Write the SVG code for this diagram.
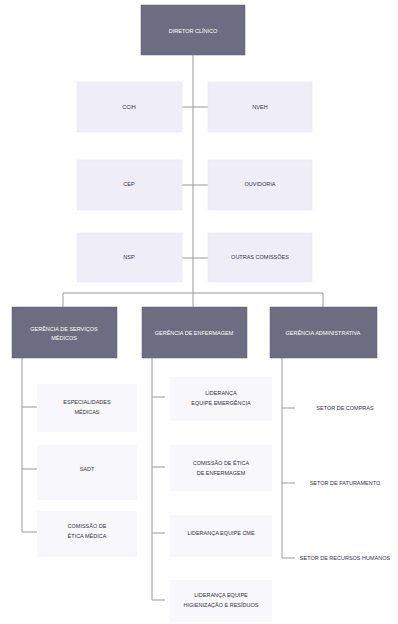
<svg xmlns="http://www.w3.org/2000/svg" width="398" height="624" viewBox="0 0 398 624">
<style>
.dark{fill:#6d6c80;stroke:#5d5c70;stroke-width:0.5}
.light{fill:#efeef7;stroke:#e6e4f0;stroke-width:0.5}
.faint{fill:#f8f7fb;stroke:none}
.wt{font-family:"Liberation Sans",Arial,sans-serif;font-size:5.5px;fill:#ffffff;text-anchor:middle}
.bt{font-family:"Liberation Sans",Arial,sans-serif;font-size:5.5px;fill:#333344;text-anchor:middle}
.ln{stroke:#9a9a9a;stroke-width:1;fill:none}
</style>
<rect width="398" height="624" fill="#ffffff"/>
<g id="connectors">
<line class="ln" x1="193" y1="55" x2="193" y2="293"/>
<line class="ln" x1="182" y1="107" x2="208" y2="107"/>
<line class="ln" x1="182" y1="185" x2="208" y2="185"/>
<line class="ln" x1="182" y1="258" x2="208" y2="258"/>
<line class="ln" x1="63" y1="293" x2="323" y2="293"/>
<line class="ln" x1="63" y1="293" x2="63" y2="307"/>
<line class="ln" x1="193" y1="293" x2="193" y2="307"/>
<line class="ln" x1="323" y1="293" x2="323" y2="307"/>
<line class="ln" x1="22" y1="358" x2="22" y2="532"/>
<line class="ln" x1="22" y1="407" x2="37" y2="407"/>
<line class="ln" x1="22" y1="469" x2="37" y2="469"/>
<line class="ln" x1="22" y1="532" x2="37" y2="532"/>
<line class="ln" x1="152" y1="358" x2="152" y2="600"/>
<line class="ln" x1="152" y1="397" x2="165" y2="397"/>
<line class="ln" x1="152" y1="467" x2="165" y2="467"/>
<line class="ln" x1="152" y1="533" x2="165" y2="533"/>
<line class="ln" x1="152" y1="600" x2="165" y2="600"/>
<line class="ln" x1="282" y1="358" x2="282" y2="558"/>
<line class="ln" x1="282" y1="408" x2="295" y2="408"/>
<line class="ln" x1="282" y1="483" x2="295" y2="483"/>
<line class="ln" x1="282" y1="558" x2="295" y2="558"/>
</g>
<g id="n-top"><rect class="dark" x="141" y="5" width="104" height="50"/><text class="wt" x="193" y="33">DIRETOR CLÍNICO</text></g>
<g id="n-ccih"><rect class="light" x="77" y="82" width="105" height="50"/><text class="bt" x="129" y="109">CCIH</text></g>
<g id="n-nveh"><rect class="light" x="208" y="82" width="104" height="50"/><text class="bt" x="260" y="109">NVEH</text></g>
<g id="n-cep"><rect class="light" x="77" y="160" width="105" height="50"/><text class="bt" x="129" y="186">CEP</text></g>
<g id="n-ouv"><rect class="light" x="208" y="160" width="104" height="50"/><text class="bt" x="260" y="186">OUVIDORIA</text></g>
<g id="n-nsp"><rect class="light" x="77" y="233" width="105" height="49"/><text class="bt" x="129" y="259">NSP</text></g>
<g id="n-outras"><rect class="light" x="208" y="233" width="104" height="49"/><text class="bt" x="260" y="259">OUTRAS COMISSÕES</text></g>
<g id="n-med"><rect class="dark" x="12" y="307" width="105" height="51"/><text class="wt" x="64" y="331">GERÊNCIA DE SERVIÇOS</text><text class="wt" x="64" y="340">MÉDICOS</text></g>
<g id="n-enf"><rect class="dark" x="142" y="307" width="105" height="51"/><text class="wt" x="194" y="335">GERÊNCIA DE ENFERMAGEM</text></g>
<g id="n-adm"><rect class="dark" x="270" y="307" width="107" height="51"/><text class="wt" x="323" y="335">GERÊNCIA ADMINISTRATIVA</text></g>
<g id="n-esp"><rect class="faint" x="37" y="384" width="100" height="48"/><text class="bt" x="87" y="404">ESPECIALIDADES</text><text class="bt" x="87" y="414">MÉDICAS</text></g>
<g id="n-sadt"><rect class="faint" x="37" y="445" width="100" height="55"/><text class="bt" x="87" y="471">SADT</text></g>
<g id="n-cem"><rect class="faint" x="37" y="511" width="100" height="46"/><text class="bt" x="87" y="528">COMISSÃO DE</text><text class="bt" x="87" y="538">ÉTICA MÉDICA</text></g>
<g id="n-lem"><rect class="faint" x="170" y="377" width="102" height="44"/><text class="bt" x="221" y="395">LIDERANÇA</text><text class="bt" x="221" y="405">EQUIPE EMERGÊNCIA</text></g>
<g id="n-cee"><rect class="faint" x="170" y="445" width="102" height="46"/><text class="bt" x="221" y="465">COMISSÃO DE ÉTICA</text><text class="bt" x="221" y="475">DE ENFERMAGEM</text></g>
<g id="n-cme"><rect class="faint" x="170" y="515" width="102" height="42"/><text class="bt" x="221" y="535">LIDERANÇA EQUIPE CME</text></g>
<g id="n-hig"><rect class="faint" x="170" y="580" width="102" height="42"/><text class="bt" x="221" y="597">LIDERANÇA EQUIPE</text><text class="bt" x="221" y="607">HIGIENIZAÇÃO E RESÍDUOS</text></g>
<g id="n-compras"><text class="bt" x="345" y="410">SETOR DE COMPRAS</text></g>
<g id="n-fat"><text class="bt" x="345" y="485">SETOR DE FATURAMENTO</text></g>
<g id="n-rh"><text class="bt" x="345" y="560">SETOR DE RECURSOS HUMANOS</text></g>
</svg>
